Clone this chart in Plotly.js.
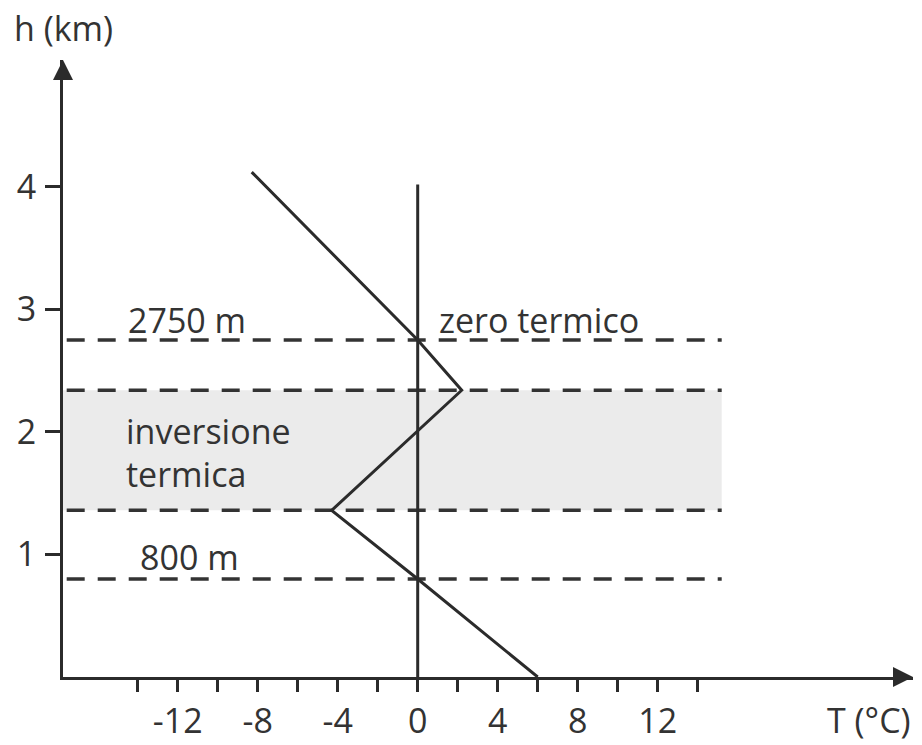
<!DOCTYPE html>
<html>
<head>
<meta charset="utf-8">
<script src="https://cdn.plot.ly/plotly-3.0.1.min.js"></script>
<style>
  html, body { margin: 0; padding: 0; background: #ffffff; }
  #chart { width: 922px; height: 745px; }
</style>
</head>
<body>
<div id="chart"></div>
<script>
// Temperature profile (°C) versus height (km)
const profileT = [6, 0, -4.3, 2.2, 0, -8.3];
const profileH = [0, 0.8, 1.36, 2.34, 2.75, 4.12];

// Reference height levels (km) drawn as dashed lines
const levelH = [0.8, 1.36, 2.34, 2.75];

// Thermal inversion band (km)
const inversionBand = [1.36, 2.34];

// Zero-degree vertical reference
const zeroT = [0, 0];
const zeroH = [0, 4.02];

// Axis ticks
const tTickVals = [-14, -12, -10, -8, -6, -4, -2, 0, 2, 4, 6, 8, 10, 12, 14];
const tTickText = ['', '-12', '', '-8', '', '-4', '', '0', '', '4', '', '8', '', '12', ''];
const hTickVals = [1, 2, 3, 4];
const hTickText = ['1', '2', '3', '4'];

const X_MIN = -17.735, X_MAX = 24.765;
const Y_MIN = 0, Y_MAX = 5.035;
const LEVEL_X0 = -17.55, LEVEL_X1 = 15.2;

const ink = '#2b2b2b';
const FONT = 'Open Sans, Noto Sans, sans-serif';
const FS = 34;

// build dashed level line coordinates
const lvX = [], lvY = [];
levelH.forEach(h => { lvX.push(LEVEL_X0, LEVEL_X1, null); lvY.push(h, h, null); });

const traces = [
  {
    x: lvX, y: lvY, mode: 'lines', type: 'scatter',
    line: { color: '#333333', width: 3.5, dash: '18px,13px' },
    hoverinfo: 'skip', showlegend: false
  },
  {
    x: zeroT, y: zeroH, mode: 'lines', type: 'scatter',
    line: { color: ink, width: 3 },
    hoverinfo: 'skip', showlegend: false
  },
  {
    x: profileT, y: profileH, mode: 'lines', type: 'scatter',
    line: { color: ink, width: 3 },
    hoverinfo: 'skip', showlegend: false
  }
];

const layout = {
  width: 922, height: 745,
  margin: { l: 63, r: 9, t: 60, b: 68, pad: 0 },
  paper_bgcolor: '#ffffff', plot_bgcolor: '#ffffff',
  font: { family: FONT, size: FS, color: '#333333' },
  showlegend: false,
  xaxis: {
    range: [X_MIN, X_MAX], showgrid: false, zeroline: false,
    showline: true, linecolor: ink, linewidth: 3,
    ticks: 'outside', ticklen: 12, tickwidth: 3, tickcolor: ink,
    tickvals: tTickVals, ticktext: tTickText,
    tickfont: { family: FONT, size: FS, color: '#333333' },
    fixedrange: true
  },
  yaxis: {
    range: [Y_MIN, Y_MAX], showgrid: false, zeroline: false,
    showline: true, linecolor: ink, linewidth: 3,
    ticks: 'outside', ticklen: 15, tickwidth: 3, tickcolor: ink,
    tickvals: hTickVals, ticktext: hTickText,
    ticklabelstandoff: 2,
    tickfont: { family: FONT, size: FS, color: '#333333' },
    fixedrange: true
  },
  shapes: [
    {
      type: 'rect', layer: 'below', xref: 'paper', yref: 'y',
      x0: 0, x1: (LEVEL_X1 - X_MIN) / (X_MAX - X_MIN),
      y0: inversionBand[0], y1: inversionBand[1],
      fillcolor: '#ebebeb', line: { width: 0 }
    },
    {
      type: 'path', xref: 'paper', yref: 'paper',
      xsizemode: 'pixel', ysizemode: 'pixel', xanchor: 1, yanchor: 0,
      path: 'M0,0 L-20,10 L-20,-10 Z',
      fillcolor: ink, line: { width: 0 }
    },
    {
      type: 'path', xref: 'paper', yref: 'paper',
      xsizemode: 'pixel', ysizemode: 'pixel', xanchor: 0, yanchor: 1,
      path: 'M0,0 L-10,-20 L10,-20 Z',
      fillcolor: ink, line: { width: 0 }
    }
  ],
  annotations: [
    { text: 'h (km)', xref: 'paper', yref: 'paper', x: 0, y: 1, xshift: -51, yshift: 32,
      xanchor: 'left', yanchor: 'middle', showarrow: false },
    { text: 'T (°C)', xref: 'paper', yref: 'paper', x: 1, y: 0, yshift: -43,
      xanchor: 'right', yanchor: 'middle', showarrow: false },
    { text: '2750 m', x: -14.6, y: 2.91, xanchor: 'left', yanchor: 'middle', showarrow: false },
    { text: 'zero termico', x: 0.97, y: 2.91, xanchor: 'left', yanchor: 'middle', showarrow: false },
    { text: 'inversione', x: -14.7, y: 2.01, xanchor: 'left', yanchor: 'middle', showarrow: false },
    { text: 'termica', x: -14.7, y: 1.66, xanchor: 'left', yanchor: 'middle', showarrow: false },
    { text: '800 m', x: -14.0, y: 0.98, xanchor: 'left', yanchor: 'middle', showarrow: false }
  ]
};

Plotly.newPlot('chart', traces, layout, { displayModeBar: false, staticPlot: true });
</script>
</body>
</html>
